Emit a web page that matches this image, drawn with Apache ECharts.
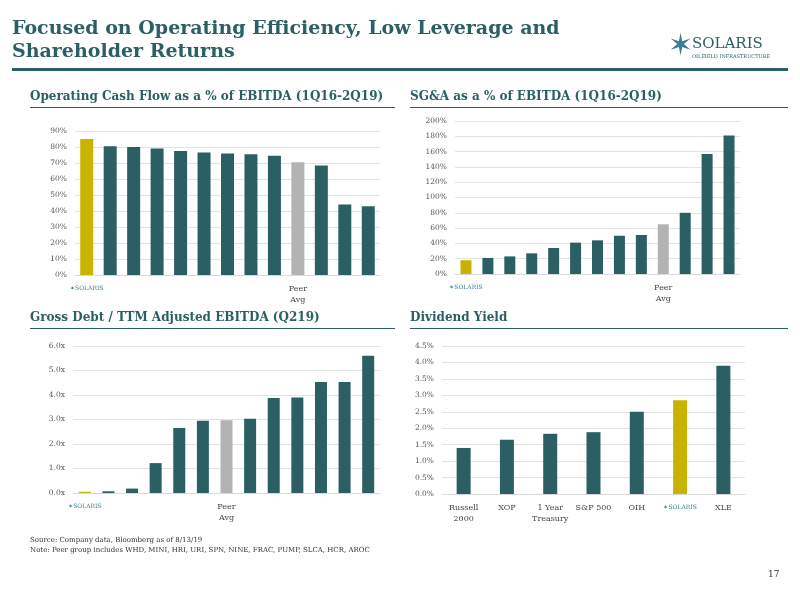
<!DOCTYPE html>
<html><head><meta charset="utf-8">
<script src="https://cdn.jsdelivr.net/npm/echarts@6/dist/echarts.min.js"></script>
<style>html,body{margin:0;padding:0;background:#fff}#c{width:800px;height:600px}</style>
</head><body><div id="c"></div>
<script>
const TEAL='#2b5f64', GOLD='#c9b300', GREY='#b3b3b3';
const cats13 = ['SOLARIS','','','','','','','','','Peer\nAvg','','',''];
const ocfValues = [85,80.5,80,79,77.5,76.5,76,75.5,74.5,70.5,68.5,44,43];
const sgaValues = [18,21,23,27,34,41,44,50,51,65,80,157,181];
const debtCats = ['SOLARIS','','','','','','Peer\nAvg','','','','','',''];
const debtValues = [0.05,0.07,0.18,1.22,2.65,2.95,2.97,3.03,3.88,3.9,4.53,4.53,5.6];
const divCats = ['Russell\n2000','XOP','1 Year\nTreasury','S&P 500','OIH','SOLARIS','XLE'];
const divValues = [1.4,1.65,1.83,1.88,2.5,2.85,3.9];
const ocfTicks=[0,90,10], sgaTicks=[0,200,20], debtTicks=[0,6,1], divTicks=[0,4.5,0.5];

const F='DejaVu Serif';
function colorize(vals, cats){
  return vals.map((v,i)=>({value:v,itemStyle:{color:cats[i]==='SOLARIS'?GOLD:(cats[i].startsWith('Peer')?GREY:TEAL)}}));
}
function xa(idx,cats){return {type:'category',gridIndex:idx,data:cats,axisTick:{show:false},
  axisLine:{lineStyle:{color:'#d9d9d9'}},
  axisLabel:{interval:0,fontFamily:F,fontSize:8,color:'#444',lineHeight:11,
    formatter:v=>v==='SOLARIS'?'{s|✶SOLARIS}':v,rich:{s:{color:'#3a7f95',fontSize:6,fontFamily:F}}}};}
function ya(idx,t,fmt){return {type:'value',gridIndex:idx,min:t[0],max:t[1],interval:t[2],
  splitLine:{lineStyle:{color:'#e3e3e3'}},axisLine:{show:false},axisTick:{show:false},
  axisLabel:{fontFamily:F,fontSize:7.5,color:'#555',formatter:fmt}};}
const chart=echarts.init(document.getElementById('c'));
chart.setOption({
  animation:false,
  grid:[
    {left:75,right:420,top:131,bottom:325},
    {left:455,right:60,top:121,bottom:326},
    {left:73,right:420,top:346,bottom:107},
    {left:442,right:55,top:346,bottom:106}
  ],
  xAxis:[xa(0,cats13),xa(1,cats13),xa(2,debtCats),xa(3,divCats)],
  yAxis:[ya(0,ocfTicks,v=>v+'%'),ya(1,sgaTicks,v=>v+'%'),ya(2,debtTicks,v=>v.toFixed(1)+'x'),ya(3,divTicks,v=>v.toFixed(1)+'%')],
  series:[
    {type:'bar',xAxisIndex:0,yAxisIndex:0,barWidth:13,data:colorize(ocfValues,cats13)},
    {type:'bar',xAxisIndex:1,yAxisIndex:1,barWidth:11,data:colorize(sgaValues,cats13)},
    {type:'bar',xAxisIndex:2,yAxisIndex:2,barWidth:12,data:colorize(debtValues,debtCats)},
    {type:'bar',xAxisIndex:3,yAxisIndex:3,barWidth:14,data:colorize(divValues,divCats)}
  ],
  graphic:[
    {type:'text',left:12,top:18,style:{text:'Focused on Operating Efficiency, Low Leverage and\nShareholder Returns',fontFamily:F,fontWeight:'bold',fontSize:19,lineHeight:23,fill:TEAL}},
    {type:'rect',shape:{x:12,y:68,width:776,height:3},style:{fill:TEAL}},
    {type:'text',left:668,top:32,style:{text:'✶',fontSize:30,fill:'#3a7f95'}},
    {type:'text',left:692,top:37,style:{text:'SOLARIS',fontFamily:F,fontSize:15,fill:TEAL}},
    {type:'text',left:692,top:54,style:{text:'OILFIELD INFRASTRUCTURE',fontFamily:F,fontSize:5,fill:TEAL}},
    {type:'text',left:30,top:91,style:{text:'Operating Cash Flow as a % of EBITDA (1Q16-2Q19)',fontFamily:F,fontWeight:'bold',fontSize:12,fill:TEAL}},
    {type:'rect',shape:{x:30,y:107,width:365,height:1},style:{fill:TEAL}},
    {type:'text',left:410,top:91,style:{text:'SG&A as a % of EBITDA (1Q16-2Q19)',fontFamily:F,fontWeight:'bold',fontSize:12,fill:TEAL}},
    {type:'rect',shape:{x:410,y:107,width:378,height:1},style:{fill:TEAL}},
    {type:'text',left:30,top:312,style:{text:'Gross Debt / TTM Adjusted EBITDA (Q219)',fontFamily:F,fontWeight:'bold',fontSize:12,fill:TEAL}},
    {type:'rect',shape:{x:30,y:328,width:365,height:1},style:{fill:TEAL}},
    {type:'text',left:410,top:312,style:{text:'Dividend Yield',fontFamily:F,fontWeight:'bold',fontSize:12,fill:TEAL}},
    {type:'rect',shape:{x:410,y:328,width:378,height:1},style:{fill:TEAL}},
    {type:'text',left:30,top:535,style:{text:'Source: Company data, Bloomberg as of 8/13/19\nNote: Peer group includes WHD, MINI, HRI, URI, SPN, NINE, FRAC, PUMP, SLCA, HCR, AROC',fontFamily:F,fontSize:7,lineHeight:10,fill:'#333'}},
    {type:'text',left:768,top:570,style:{text:'17',fontFamily:F,fontSize:9,fill:'#333'}}
  ]
});
</script></body></html>
